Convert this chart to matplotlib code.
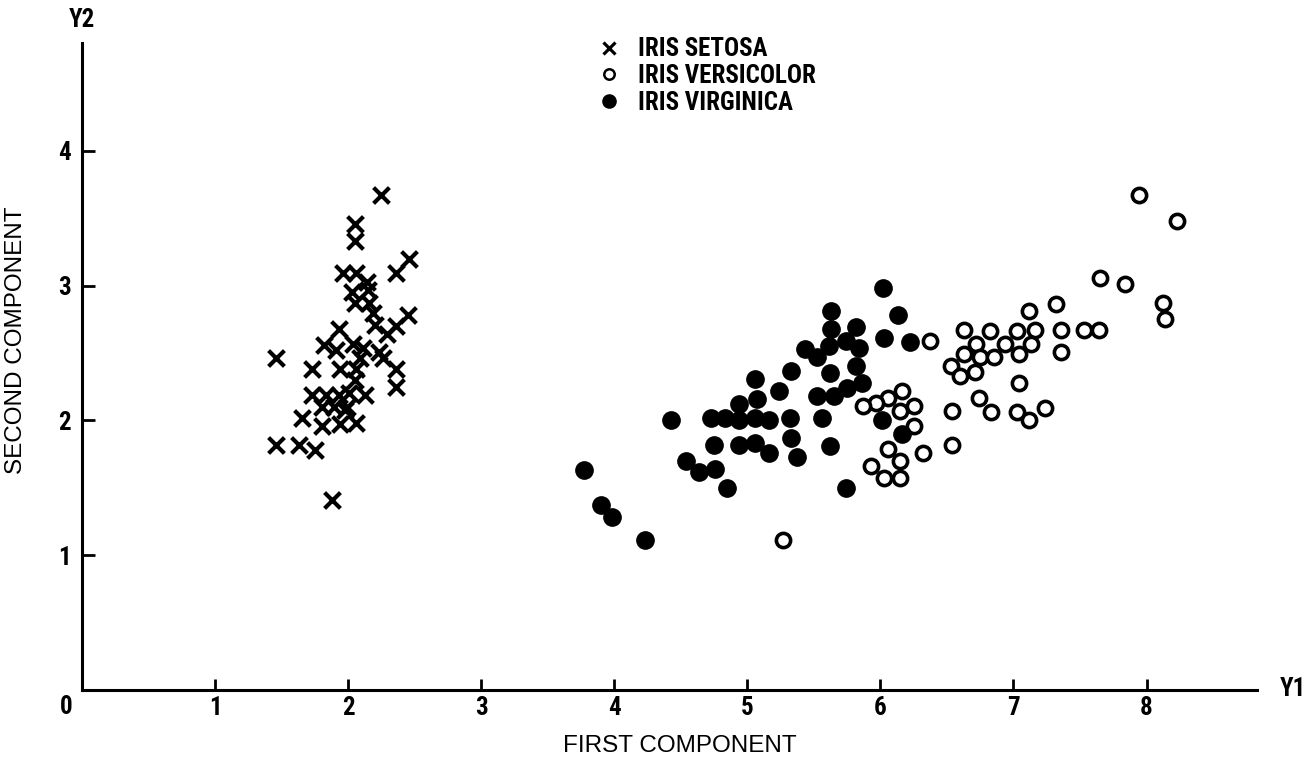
import numpy as np
import matplotlib.pyplot as plt
from matplotlib.lines import Line2D
from matplotlib import font_manager

# iris principal components
setosa_x = [2.25, 2.05, 2.05, 2.46, 1.96, 2.06, 2.36, 2.14, 2.03, 2.15,
            2.05, 2.16, 2.19, 2.45, 1.93, 2.20, 2.29, 2.36, 1.82, 1.91,
            2.04, 2.11, 2.09, 2.23, 2.26, 1.46, 1.73, 1.94, 2.06, 2.36,
            2.36, 2.05, 1.73, 1.83, 1.93, 2.01, 2.13, 1.80, 1.89, 1.99,
            1.65, 1.80, 1.94, 2.06, 1.98, 1.46, 1.63, 1.75, 1.88]
setosa_y = [3.67, 3.46, 3.33, 3.20, 3.09, 3.09, 3.09, 3.03, 2.95, 2.97,
            2.87, 2.87, 2.80, 2.78, 2.68, 2.71, 2.64, 2.70, 2.56, 2.52,
            2.57, 2.54, 2.46, 2.51, 2.46, 2.46, 2.38, 2.38, 2.38, 2.38,
            2.25, 2.30, 2.19, 2.19, 2.19, 2.20, 2.19, 2.10, 2.10, 2.10,
            2.02, 1.96, 1.97, 1.98, 2.08, 1.82, 1.82, 1.78, 1.41]

versicolor_x = [6.37, 6.16, 6.06, 5.97, 5.87, 6.25, 6.15, 6.25, 6.06, 6.15,
                6.32, 5.93, 6.03, 6.15, 7.94, 8.23, 7.65, 7.84, 8.12, 8.14,
                7.32, 7.12, 6.63, 6.82, 7.03, 7.16, 7.36, 7.53, 7.64, 6.72,
                6.94, 7.13, 6.63, 6.75, 6.85, 7.04, 7.36, 6.53, 6.60, 6.71,
                7.04, 6.74, 6.54, 6.83, 7.03, 7.12, 7.24, 6.54, 5.27]
versicolor_y = [2.59, 2.22, 2.17, 2.13, 2.11, 2.11, 2.07, 1.96, 1.79, 1.70,
                1.76, 1.66, 1.57, 1.57, 3.67, 3.48, 3.06, 3.01, 2.87, 2.75,
                2.86, 2.81, 2.67, 2.66, 2.66, 2.67, 2.67, 2.67, 2.67, 2.57,
                2.57, 2.57, 2.49, 2.47, 2.47, 2.49, 2.51, 2.40, 2.33, 2.36,
                2.28, 2.17, 2.07, 2.06, 2.06, 2.00, 2.09, 1.82, 1.11]

virginica_x = [3.77, 3.90, 3.98, 4.23, 4.43, 4.54, 4.64, 4.76, 4.85, 4.73,
               4.83, 4.94, 4.75, 4.94, 4.94, 5.06, 5.07, 5.06, 5.06, 6.02,
               6.13, 6.03, 6.22, 5.63, 5.63, 5.82, 5.74, 5.84, 5.61, 5.43,
               5.52, 5.82, 5.33, 5.62, 5.86, 5.75, 5.24, 5.52, 5.65, 5.16,
               5.32, 5.56, 6.01, 6.16, 5.33, 5.16, 5.37, 5.62, 5.74]
virginica_y = [1.63, 1.37, 1.28, 1.11, 2.00, 1.70, 1.62, 1.64, 1.50, 2.02,
               2.02, 2.00, 1.82, 2.12, 1.82, 2.31, 2.16, 2.02, 1.83, 2.98,
               2.78, 2.61, 2.58, 2.81, 2.68, 2.69, 2.59, 2.54, 2.55, 2.53,
               2.47, 2.40, 2.37, 2.35, 2.28, 2.24, 2.22, 2.18, 2.18, 2.00,
               2.02, 2.02, 2.00, 1.90, 1.87, 1.76, 1.73, 1.81, 1.50]

labels = ["IRIS SETOSA", "IRIS VERSICOLOR", "IRIS VIRGINICA"]
ticks = [1, 2, 3, 4, 5, 6, 7, 8]
yticks = [1, 2, 3, 4]

# condensed bold face for numbers and legend, if one is around
installed = {f.name for f in font_manager.fontManager.ttflist}
narrow_name = 'DejaVu Sans'
for n in ['Liberation Sans Narrow', 'Roboto Condensed', 'Open Sans Condensed',
          'Noto Sans Condensed', 'DejaVu Sans Condensed']:
    if n in installed:
        narrow_name = n
        break
narrow = [narrow_name, 'DejaVu Sans']
plain = ['Liberation Sans', 'DejaVu Sans']
nfont = dict(family=narrow, weight='bold', stretch='condensed')

W, H = 1310, 766
fig = plt.figure(figsize=(W / 100, H / 100), dpi=100)
# axes box in pixels: origin (82, 690), ends at x=1257, y=43
ax = fig.add_axes([82 / W, (H - 690) / H, (1257 - 82) / W, (690 - 43) / H])
ax.set_xlim(0, 8.83)
ax.set_ylim(0, 4.8)

ax.scatter(setosa_x, setosa_y, marker='x', s=130, c='black', linewidths=3)
ax.scatter(versicolor_x, versicolor_y, marker='o', s=105, facecolors='white',
           edgecolors='black', linewidths=2.6, zorder=3)
ax.scatter(virginica_x, virginica_y, marker='o', s=155, c='black', zorder=3)

for s in ['top', 'right']:
    ax.spines[s].set_visible(False)
for s in ['left', 'bottom']:
    ax.spines[s].set_linewidth(2.2)

ax.set_xticks(ticks)
ax.set_yticks(yticks)
ax.tick_params(axis='x', direction='in', length=8, width=2, pad=4)
ax.tick_params(axis='y', direction='in', length=9, width=2, pad=8)
for lab in ax.get_xticklabels() + ax.get_yticklabels():
    lab.set_family(narrow)
    lab.set_fontweight('bold')
    lab.set_fontstretch('condensed')
    lab.set_fontsize(18)

ax.text(-0.07, -0.04, "0", ha='right', va='top', fontsize=18, clip_on=False, **nfont)
ax.text(0.0, 4.97, "Y2", ha='center', va='center', fontsize=18, clip_on=False, **nfont)
ax.text(9.1, 0.01, "Y1", ha='center', va='center', fontsize=18, clip_on=False, **nfont)

ax.set_xlabel("FIRST COMPONENT", family=plain, fontsize=17.5)
ax.xaxis.set_label_coords((680 - 82) / 1175, (690 - 746) / 647)
ax.xaxis.label.set_verticalalignment('center')
ax.set_ylabel("SECOND COMPONENT", family=plain, fontsize=17.5)
ax.yaxis.set_label_coords((16 - 82) / 1175, (690 - 340) / 647)
ax.yaxis.label.set_verticalalignment('center')

handles = [
    Line2D([], [], ls='none', marker='x', ms=8.5, mew=2.3, color='black'),
    Line2D([], [], ls='none', marker='o', ms=7.5, mew=1.8, mfc='white', color='black'),
    Line2D([], [], ls='none', marker='o', ms=9.5, color='black'),
]
leg = ax.legend(handles, labels, loc='upper left', frameon=False,
                bbox_to_anchor=(584 / W, 1 - 25 / H), bbox_transform=fig.transFigure,
                borderpad=0, handlelength=1.0, handletextpad=0.65, labelspacing=0.1,
                prop=dict(family=narrow, weight='bold', stretch='condensed', size=18))

fig.savefig("out.png", dpi=100)
